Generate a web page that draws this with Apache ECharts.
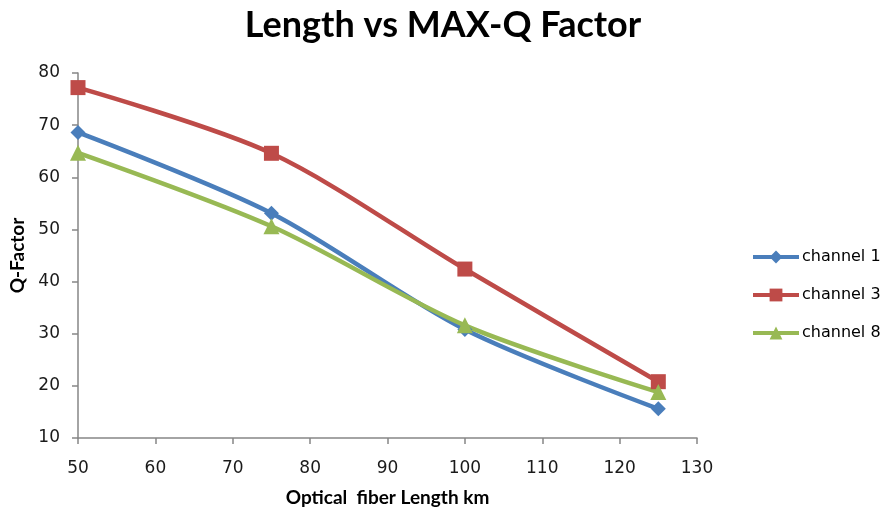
<!DOCTYPE html>
<html><head><meta charset="utf-8">
<script src="https://cdn.jsdelivr.net/npm/echarts@6/dist/echarts.min.js"></script>
<style>html,body{margin:0;padding:0;background:#fff}#c{width:885px;height:512px}</style>
</head><body><div id="c"></div>
<script>
const lengths = [50, 75, 100, 125];
const channel1 = [68.6, 53.1, 30.8, 15.6];
const channel3 = [77.2, 64.6, 42.4, 20.8];
const channel8 = [64.7, 50.6, 31.6, 18.8];
const seriesNames = ['channel 1', 'channel 3', 'channel 8'];

const chart = echarts.init(document.getElementById('c'));
const pair = arr => lengths.map((x, i) => [x, arr[i]]);
const diamond = 'path://M0,-1L1,0L0,1L-1,0Z';
const axisCol = '#868686';
const lab = {color: '#1a1a1a', fontFamily: 'DejaVu Sans', fontSize: 17};
chart.setOption({
  animation: false,
  title: {text: 'Length vs MAX-Q Factor', left: 438, top: 2, textAlign: 'center',
    textStyle: {fontFamily: 'Lato', fontWeight: 'bold', fontSize: 36, color: '#000'}},
  grid: {left: 78, right: 188, top: 73, bottom: 74},
  legend: {orient: 'vertical', left: 746, top: 244, itemGap: 22, itemWidth: 46, itemHeight: 16,
    textStyle: {fontFamily: 'DejaVu Sans', fontSize: 16, color: '#000', padding: [0, 0, 0, -2]},
    lineStyle: {width: 4},
    data: seriesNames},
  xAxis: {type: 'value', min: 50, max: 130, interval: 10,
    name: 'Optical  fiber Length km', nameLocation: 'middle', nameGap: 50,
    nameTextStyle: {fontFamily: 'Lato', fontWeight: 'bold', fontSize: 19, color: '#000'},
    axisLine: {lineStyle: {color: axisCol, width: 1.5}}, axisTick: {lineStyle: {color: axisCol, width: 1.5}, length: 6},
    splitLine: {show: false}, axisLabel: Object.assign({margin: 22}, lab)},
  yAxis: {type: 'value', min: 10, max: 80, interval: 10,
    name: 'Q-Factor', nameLocation: 'middle', nameGap: 48,
    nameTextStyle: {fontFamily: 'Lato', fontWeight: 'bold', fontSize: 19, color: '#000'},
    axisLine: {show: true, lineStyle: {color: axisCol, width: 1.5}}, axisTick: {show: true, lineStyle: {color: axisCol, width: 1.5}, length: 6},
    splitLine: {show: false}, axisLabel: Object.assign({margin: 18}, lab)},
  series: [
    {name: seriesNames[0], type: 'line', data: pair(channel1), smooth: 0.3, symbol: diamond, symbolSize: 15,
      lineStyle: {width: 4.5, color: '#4A7EBB'}, itemStyle: {color: '#4A7EBB'}},
    {name: seriesNames[1], type: 'line', data: pair(channel3), smooth: 0.3, symbol: 'rect', symbolSize: 15,
      lineStyle: {width: 4.5, color: '#BE4B48'}, itemStyle: {color: '#BE4B48'}},
    {name: seriesNames[2], type: 'line', data: pair(channel8), smooth: 0.3, symbol: 'triangle', symbolSize: 16,
      lineStyle: {width: 4.5, color: '#98B954'}, itemStyle: {color: '#98B954'}}
  ]
});
</script></body></html>
